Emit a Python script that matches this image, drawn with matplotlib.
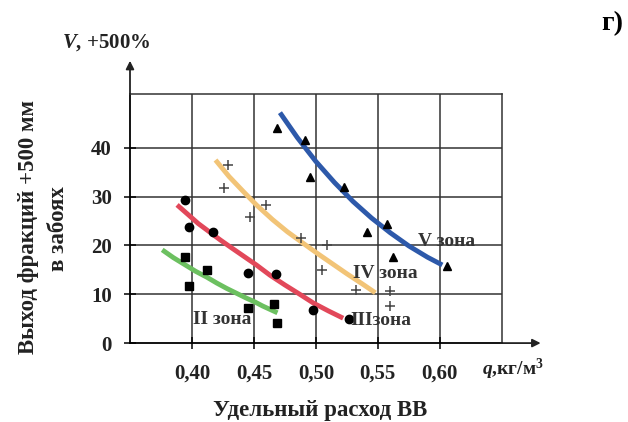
import matplotlib.pyplot as plt

plt.rcParams['font.family'] = ['Liberation Serif', 'DejaVu Serif']
plt.rcParams['font.weight'] = 'bold'
plt.rcParams['mathtext.fontset'] = 'custom'
plt.rcParams['mathtext.rm'] = 'Liberation Serif:bold'
plt.rcParams['mathtext.it'] = 'Liberation Serif:italic:bold'
plt.rcParams['mathtext.bf'] = 'Liberation Serif:bold'

# Measured points, zones II..V
q_zone2 = [0.394, 0.398, 0.412, 0.445, 0.466, 0.469]
v_zone2 = [17.6, 11.7, 15.0, 7.2, 8.0, 4.1]

q_zone3 = [0.394, 0.398, 0.417, 0.445, 0.468, 0.498, 0.527]
v_zone3 = [29.3, 23.8, 22.8, 14.4, 14.2, 6.8, 4.9]

q_zone4 = [0.429, 0.426, 0.460, 0.447, 0.488, 0.509, 0.505, 0.532, 0.560, 0.560]
v_zone4 = [36.5, 31.8, 28.3, 25.8, 21.5, 20.1, 15.0, 10.9, 10.7, 7.6]

q_zone5 = [0.469, 0.491, 0.495, 0.523, 0.541, 0.557, 0.562, 0.606]
v_zone5 = [44.1, 41.6, 34.1, 32.0, 22.8, 24.4, 17.6, 15.8]

# Trend curves per zone
q_fit2 = [0.376, 0.385, 0.394, 0.403, 0.412, 0.420, 0.428, 0.436, 0.444, 0.451, 0.457, 0.463, 0.469]
v_fit2 = [19.1, 17.5, 16.1, 14.7, 13.5, 12.3, 11.2, 10.2, 9.2, 8.4, 7.6, 6.9, 6.2]

q_fit3 = [0.388, 0.397, 0.405, 0.414, 0.423, 0.432, 0.440, 0.452, 0.463, 0.475,
          0.487, 0.498, 0.510, 0.522]
v_fit3 = [28.3, 26.3, 24.5, 22.8, 21.1, 19.5, 18.1, 16.0, 13.9, 11.9,
          10.0, 8.2, 6.6, 5.1]

q_fit4 = [0.419, 0.430, 0.442, 0.452, 0.465, 0.477, 0.490, 0.501, 0.513, 0.525, 0.537, 0.548]
v_fit4 = [37.5, 34.1, 30.9, 28.3, 25.3, 22.8, 20.4, 18.4, 16.3, 14.2, 12.2, 10.3]

q_fit5 = [0.471, 0.485, 0.500, 0.515, 0.530, 0.545, 0.560, 0.575, 0.590, 0.602]
v_fit5 = [47.2, 42.1, 37.2, 32.9, 29.0, 25.6, 22.6, 19.9, 17.6, 16.0]

q_ticks = [0.40, 0.45, 0.50, 0.55, 0.60]
q_ticklabels = ['0,40', '0,45', '0,50', '0,55', '0,60']
v_ticks = [0, 10, 20, 30, 40]

fig = plt.figure(figsize=(6.28, 4.22), dpi=100)
ax = fig.add_axes([0.207, 0.187, 0.592, 0.590])
ax.set_xlim(0.35, 0.65)
ax.set_ylim(0, 51)

grid_kw = dict(color='#333333', linewidth=1.1, zorder=1)
for q in q_ticks:
    ax.axvline(q, **grid_kw)
for v in v_ticks[1:]:
    ax.axhline(v, **grid_kw)
for side in ['top', 'right']:
    ax.spines[side].set_color('#333333')
    ax.spines[side].set_linewidth(1.1)
for side in ['left', 'bottom']:
    ax.spines[side].set_linewidth(1.3)

ax.set_xticks(q_ticks)
ax.set_xticklabels(q_ticklabels)
ax.set_yticks(v_ticks)
ax.tick_params(direction='inout', length=8, width=1.1, labelsize=15)
ax.tick_params(axis='x', pad=11)
ax.tick_params(axis='y', pad=9)
for lbl in ax.get_xticklabels() + ax.get_yticklabels():
    lbl.set_color('#222222')

# axis arrows
ax.annotate('', xy=(0, 1.145), xytext=(0, 0.99), xycoords='axes fraction',
            arrowprops=dict(arrowstyle='-|>', color='#222222', lw=1.3, mutation_scale=12))
ax.annotate('', xy=(1.112, 0), xytext=(0.99, 0), xycoords='axes fraction',
            arrowprops=dict(arrowstyle='-|>', color='#222222', lw=1.3, mutation_scale=12))

ax.plot(q_fit2, v_fit2, color='#6cc060', lw=3.5, solid_capstyle='butt', zorder=2)
ax.plot(q_fit3, v_fit3, color='#e2485a', lw=3.5, solid_capstyle='butt', zorder=2)
ax.plot(q_fit4, v_fit4, color='#f2c477', lw=3.5, solid_capstyle='butt', zorder=2)
ax.plot(q_fit5, v_fit5, color='#2d59aa', lw=3.5, solid_capstyle='butt', zorder=2)

ax.plot(q_zone2, v_zone2, 's', color='black', ms=5.5, zorder=3, clip_on=False)
ax.plot(q_zone3, v_zone3, 'o', color='black', ms=6, zorder=3, clip_on=False)
ax.plot(q_zone4, v_zone4, '+', color='#444444', ms=7, mew=1.1, zorder=3)
ax.plot(q_zone5, v_zone5, '^', color='black', ms=5.5, zorder=3)

zone_kw = dict(fontsize=14, color='#333333', zorder=4)
ax.text(0.401, 4.8, 'II зона', ha='left', va='center', **zone_kw)
ax.text(0.528, 4.6, 'IIIзона', ha='left', va='center', **zone_kw)
ax.text(0.530, 14.3, 'IV зона', ha='left', va='center', **zone_kw)
ax.text(0.582, 20.8, 'V зона', ha='left', va='center', **zone_kw)

fig.text(0.768, 0.124, r'$\mathit{q}$,кг/м$^{3}$', fontsize=14, ha='left', va='center',
         color='#222222')
fig.text(0.510, 0.028, 'Удельный расход ВВ', fontsize=16.5, ha='center', va='center',
         color='#222222')
fig.text(0.099, 0.900, r'$\mathit{V}$, +500%', fontsize=15, ha='left', va='center',
         color='#222222')
fig.text(0.046, 0.462, 'Выход фракций +500 мм', fontsize=16.5, rotation=90,
         ha='center', va='center', color='#222222')
fig.text(0.093, 0.458, 'в забоях', fontsize=16.5, rotation=90, ha='center', va='center',
         color='#222222')
fig.text(0.975, 0.945, 'г)', fontsize=20, ha='center', va='center')

fig.savefig('out.png', dpi=100)
